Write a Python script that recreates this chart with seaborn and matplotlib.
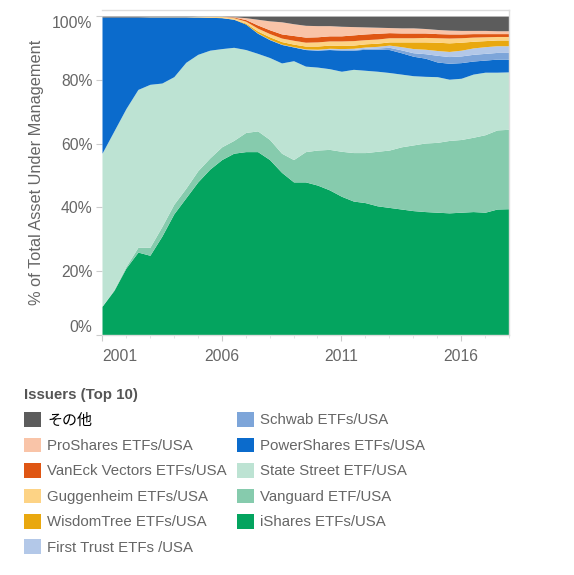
import pandas as pd
import seaborn as sns
import matplotlib.pyplot as plt
from matplotlib.patches import Patch

# half-year sample points, 2001 .. 2018
years = [2001.0, 2001.5, 2002.0, 2002.5, 2003.0, 2003.5, 2004.0, 2004.5, 2005.0, 2005.5,
         2006.0, 2006.5, 2007.0, 2007.5, 2008.0, 2008.5, 2009.0, 2009.5, 2010.0, 2010.5,
         2011.0, 2011.5, 2012.0, 2012.5, 2013.0, 2013.5, 2014.0, 2014.5, 2015.0, 2015.5,
         2016.0, 2016.5, 2017.0, 2017.5, 2018.0]

# share of total AUM (%) per issuer
ishares = [9, 14, 21, 26, 25, 31, 38, 43, 48, 52, 55, 57, 57.5, 57.5, 55, 51, 48, 48, 47, 45.5,
           43.5, 42, 41.5, 40.5, 40, 39.5, 39, 38.7, 38.5, 38.3, 38.5, 38.7, 38.5, 39.5, 39.6]
vanguard = [0, 0.3, 0.5, 1.5, 2.5, 3, 3, 3, 3.5, 3.5, 4, 4, 6, 6.5, 6.3, 6, 7, 9.5, 11, 12.7,
            14.1, 15.2, 15.7, 17.1, 18, 19.5, 20.6, 21.5, 21.9, 22.7, 22.8, 23.3, 24.3, 24.8, 24.9]
state_street = [48, 49.7, 49.5, 49.5, 51.1, 45, 40, 39.5, 36.5, 33.8, 30.8, 29.2, 26, 24.3, 25.7,
                28.3, 31, 26.8, 26, 25.3, 25.1, 26.1, 25.8, 25.1, 24.3, 22.8, 21.7, 20.9, 20.6,
                19.2, 19.2, 19.8, 19.6, 18.1, 18]
powershares = [42.7, 35.7, 28.7, 22.7, 21.1, 20.7, 18.7, 14.2, 11.7, 10.3, 9.7, 8.8, 8.0, 6.3, 5.6,
               5.8, 4.3, 5.2, 5.3, 6.0, 6.6, 6.0, 6.6, 6.9, 7.2, 6.7, 6.1, 5.7, 4.6, 5.0, 4.9,
               4.1, 3.8, 4.1, 4.0]
schwab = [0, 0, 0, 0, 0, 0, 0, 0, 0, 0, 0, 0, 0, 0, 0, 0, 0, 0, 0.1, 0.1,
          0.2, 0.2, 0.3, 0.4, 0.7, 0.9, 1.1, 1.4, 2.1, 2.1, 2.1, 2.1, 2.1, 2.1, 2.1]
first_trust = [0, 0, 0, 0, 0, 0, 0, 0, 0, 0, 0, 0, 0, 0.1, 0.1, 0.1, 0.1, 0.2, 0.2, 0.3,
               0.3, 0.4, 0.4, 0.5, 0.7, 1.0, 1.3, 1.4, 1.5, 1.6, 1.8, 2.0, 2.1, 2.1, 2.1]
wisdomtree = [0, 0, 0, 0, 0, 0, 0, 0, 0, 0, 0, 0, 0.3, 0.6, 0.8, 0.8, 0.8, 0.9, 1.0, 1.0,
              1.0, 1.0, 1.0, 1.0, 1.0, 1.5, 2.1, 2.3, 2.6, 2.7, 2.5, 2.1, 1.9, 1.8, 1.8]
guggenheim = [0, 0, 0, 0, 0.1, 0.1, 0.1, 0.1, 0.2, 0.3, 0.4, 0.5, 0.6, 0.9, 1.0, 1.1, 1.2, 1.2, 1.3, 1.3,
              1.4, 1.4, 1.3, 1.3, 1.3, 1.3, 1.3, 1.4, 1.4, 1.5, 1.4, 1.3, 1.2, 1.1, 1.1]
vaneck = [0, 0, 0, 0, 0, 0, 0, 0, 0, 0, 0, 0.2, 0.5, 1.0, 1.2, 1.3, 1.5, 1.6, 1.6, 1.6,
          1.6, 1.8, 1.8, 1.8, 1.6, 1.5, 1.5, 1.4, 1.3, 1.3, 1.2, 1.1, 1.0, 0.9, 0.9]
proshares = [0, 0, 0, 0, 0, 0, 0, 0, 0, 0, 0, 0.1, 0.6, 1.8, 2.8, 3.8, 3.7, 3.7, 3.5, 3.2,
             3.0, 2.6, 2.2, 1.9, 1.6, 1.6, 1.6, 1.4, 1.3, 1.2, 1.1, 1.0, 1.0, 0.9, 0.9]
others = [0.3, 0.3, 0.3, 0.3, 0.2, 0.2, 0.2, 0.2, 0.1, 0.1, 0.1, 0.2, 0.5, 1.0, 1.5, 1.8, 2.4, 2.9, 3.0, 3.0,
          3.2, 3.3, 3.4, 3.5, 3.6, 3.7, 3.7, 3.9, 4.2, 4.4, 4.5, 4.5, 4.5, 4.6, 4.6]

# bottom -> top stacking order
issuers = ['iShares ETFs/USA', 'Vanguard ETF/USA', 'State Street ETF/USA', 'PowerShares ETFs/USA',
           'Schwab ETFs/USA', 'First Trust ETFs /USA', 'WisdomTree ETFs/USA', 'Guggenheim ETFs/USA',
           'VanEck Vectors ETFs/USA', 'ProShares ETFs/USA', 'その他']
colors = ['#04a45f', '#86cbad', '#bde3d3', '#0b6bcc', '#7da5d9', '#b3c8e8', '#e9a80f',
          '#fdd385', '#df5613', '#f9c4a8', '#5c5c5c']

df = pd.DataFrame({
    'iShares ETFs/USA': ishares, 'Vanguard ETF/USA': vanguard,
    'State Street ETF/USA': state_street, 'PowerShares ETFs/USA': powershares,
    'Schwab ETFs/USA': schwab, 'First Trust ETFs /USA': first_trust,
    'WisdomTree ETFs/USA': wisdomtree, 'Guggenheim ETFs/USA': guggenheim,
    'VanEck Vectors ETFs/USA': vaneck, 'ProShares ETFs/USA': proshares, 'その他': others,
}, index=years)
df = df.div(df.sum(axis=1), axis=0) * 100

sns.set_style('white')
plt.rcParams['font.family'] = ['Liberation Sans', 'Noto Sans CJK JP']

fig = plt.figure(figsize=(5.74, 5.75), dpi=100)
ax = fig.add_axes([102 / 574, 1 - 335 / 575, 407 / 574, 325 / 575])

ax.stackplot(df.index, [df[c] for c in issuers], colors=colors, linewidth=0)

ax.set_xlim(2001, 2018)
ax.set_ylim(0, 101.9)
ax.set_xticks([2001, 2006, 2011, 2016])
ax.set_xticklabels(['2001', '2006', '2011', '2016'])
ax.set_xticks(range(2001, 2019), minor=True)
ax.set_yticks([0, 20, 40, 60, 80, 100])
ax.set_yticklabels(['0%', '20%', '40%', '60%', '80%', '100%'])
ax.tick_params(axis='both', colors='#cccccc', labelcolor='#666666', labelsize=11.3)
ax.tick_params(axis='x', which='major', length=4, pad=6, bottom=True)
ax.tick_params(axis='x', which='minor', length=2, bottom=True, colors='#dddddd')
ax.tick_params(axis='y', length=4, left=True, pad=3)
ax.get_xticklabels()[0].set_ha('left')
ax.get_yticklabels()[0].set_va('bottom')
ax.get_yticklabels()[-1].set_va('top')

ax.set_ylabel('% of Total Asset Under Management', fontsize=11.8, color='#666666', labelpad=6)

for side in ['top', 'right', 'bottom']:
    ax.spines[side].set_color('#dddddd')
    ax.spines[side].set_linewidth(1)
ax.spines['left'].set_visible(False)

# legend, top-down as in the original
order = ['その他', 'ProShares ETFs/USA', 'VanEck Vectors ETFs/USA', 'Guggenheim ETFs/USA',
         'WisdomTree ETFs/USA', 'First Trust ETFs /USA', 'Schwab ETFs/USA',
         'PowerShares ETFs/USA', 'State Street ETF/USA', 'Vanguard ETF/USA', 'iShares ETFs/USA']
cmap = dict(zip(issuers, colors))
handles = [Patch(facecolor=cmap[n], edgecolor='none') for n in order]
leg = fig.legend(handles, order, loc='upper left', bbox_to_anchor=(24 / 574, 1 - 388 / 575),
                 ncol=2, frameon=False, fontsize=10.8, title='Issuers (Top 10)',
                 title_fontsize=10.8, alignment='left', borderpad=0, borderaxespad=0,
                 handlelength=1.13, handleheight=1.13, handletextpad=0.4, labelspacing=0.67,
                 columnspacing=0.67)
leg.get_title().set_fontweight('bold')
leg.get_title().set_color('#555555')
for t in leg.get_texts():
    t.set_color('#666666')
leg.get_texts()[0].set_color('black')
leg.get_texts()[0].set_fontfamily('Noto Sans CJK JP')

fig.savefig('out.png', dpi=100)
